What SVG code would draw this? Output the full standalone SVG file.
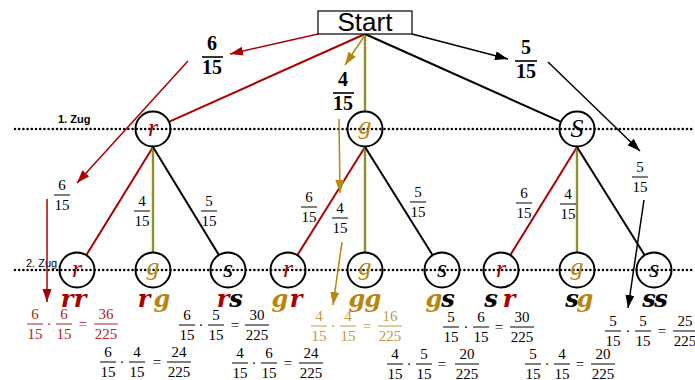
<svg xmlns="http://www.w3.org/2000/svg" width="695" height="380" viewBox="0 0 695 380">
<style>
.f{font-family:"Liberation Serif",serif;font-size:15px;text-anchor:middle}
.fb{font-family:"Liberation Serif",serif;font-size:20px;font-weight:bold;text-anchor:middle}
.bar{stroke:#000;stroke-width:1}
.barb{stroke:#000;stroke-width:1.6}
.red .bar{stroke:#b22222}
.gold .bar{stroke:#c09a45}
.red{fill:#b22222}
.gold{fill:#c09a45}
.node{fill:none;stroke:#000;stroke-width:2}
.nl{font-family:"Liberation Serif",serif;font-style:italic;font-size:26px;text-anchor:middle}
.lab{font-family:"DejaVu Serif",serif;font-style:italic;font-weight:bold;font-size:24px;text-anchor:middle}
.dot{stroke:#000;stroke-width:2.6;stroke-dasharray:0 4.2;stroke-linecap:round}
.er{stroke:#aa0000;stroke-width:2;fill:none}
.eg{stroke:#8f8f30;stroke-width:2.4;fill:none}
.ek{stroke:#000;stroke-width:2;fill:none}
.ar{stroke:#aa0000;stroke-width:1.5;fill:none;marker-end:url(#mr)}
.ag{stroke:#b8860b;stroke-width:1.5;fill:none;marker-end:url(#mg)}
.ak{stroke:#000;stroke-width:1.5;fill:none;marker-end:url(#mk)}
.cr{fill:#aa0000}
.cg{fill:#b8860b}
.ck{fill:#000}
.zug{font-family:"Liberation Sans",sans-serif;font-size:11px}
</style>
<defs>
<marker id="mr" markerUnits="userSpaceOnUse" markerWidth="14" markerHeight="10" refX="13" refY="4.5" orient="auto"><path d="M0,0 L13,4.5 L0,9 z" fill="#aa0000"/></marker>
<marker id="mg" markerUnits="userSpaceOnUse" markerWidth="14" markerHeight="10" refX="13" refY="4.5" orient="auto"><path d="M0,0 L13,4.5 L0,9 z" fill="#b8860b"/></marker>
<marker id="mk" markerUnits="userSpaceOnUse" markerWidth="14" markerHeight="10" refX="13" refY="4.5" orient="auto"><path d="M0,0 L13,4.5 L0,9 z" fill="#000"/></marker>
</defs>
<rect width="695" height="380" fill="#fff"/>

<g id="zuege">
<line class="dot" x1="15" y1="129" x2="695" y2="129"/>
<line class="dot" x1="15" y1="270" x2="695" y2="270"/>
<text class="zug" x="58" y="123" font-weight="bold">1. Zug</text>
<text class="zug" x="26" y="267" font-size="12">2. Zug</text>
</g>

<g id="connectors">
<line class="er" x1="365" y1="34" x2="169.4" y2="121.6"/>
<line class="eg" x1="365" y1="34" x2="365" y2="111"/>
<line class="ek" x1="365" y1="34" x2="560.6" y2="121.6"/>
<line class="er" x1="153" y1="147" x2="86.5" y2="254.7"/>
<line class="eg" x1="153" y1="147" x2="153" y2="252"/>
<line class="ek" x1="153" y1="147" x2="218.6" y2="254.6"/>
<line class="er" x1="365" y1="147" x2="297.6" y2="254.7"/>
<line class="eg" x1="365" y1="147" x2="365" y2="252"/>
<line class="ek" x1="365" y1="147" x2="432.4" y2="254.7"/>
<line class="er" x1="577" y1="147" x2="510.5" y2="254.7"/>
<line class="eg" x1="577" y1="147" x2="577" y2="252"/>
<line class="ek" x1="577" y1="147" x2="644.4" y2="254.7"/>
</g>

<g id="annotation-arrows">
<line class="ar" x1="318" y1="34" x2="230" y2="54"/>
<line class="ar" x1="188" y1="61" x2="77" y2="183"/>
<line class="ar" x1="47" y1="199" x2="47" y2="302"/>
<line class="ag" x1="365" y1="35" x2="345" y2="65"/>
<line class="ag" x1="339" y1="119" x2="340" y2="193"/>
<line class="ag" x1="342" y1="242" x2="333" y2="305"/>
<line class="ak" x1="412" y1="34" x2="508" y2="59"/>
<line class="ak" x1="548" y1="62" x2="640" y2="151"/>
<line class="ak" x1="644" y1="200" x2="628" y2="308"/>
</g>

<g id="start">
<rect x="318" y="11" width="94" height="23" fill="#fff" stroke="#000" stroke-width="1.2"/>
<text x="365" y="31" font-family="Liberation Sans, sans-serif" font-size="26" text-anchor="middle">Start</text>
</g>

<g id="node-r"><circle class="node" cx="153" cy="129" r="17.5"/><text class="nl cr" x="153" y="136">r</text></g>
<g id="node-g"><circle class="node" cx="365" cy="129" r="17.5"/><text class="nl cg" x="365" y="134">g</text></g>
<g id="node-s"><circle class="node" cx="577" cy="129" r="17.5"/><text class="nl ck" x="577" y="137" font-size="22">S</text></g>

<g id="node-rr"><circle class="node" cx="77" cy="270" r="17.5"/><text class="nl cr" x="77" y="277">r</text><text class="lab cr" y="307"><tspan x="67">r</tspan><tspan x="80">r</tspan></text></g>
<g id="node-rg"><circle class="node" cx="153" cy="270" r="17.5"/><text class="nl cg" x="153" y="275">g</text><text class="lab" y="307"><tspan class="cr" x="144">r</tspan><tspan class="cg" x="162">g</tspan></text></g>
<g id="node-rs"><circle class="node" cx="228" cy="270" r="17.5"/><text class="nl ck" x="228" y="277">s</text><text class="lab" y="307"><tspan class="cr" x="223">r</tspan><tspan class="ck" x="236">s</tspan></text></g>
<g id="node-gr"><circle class="node" cx="288" cy="270" r="17.5"/><text class="nl cr" x="288" y="277">r</text><text class="lab" y="307"><tspan class="cg" x="280">g</tspan><tspan class="cr" x="296">r</tspan></text></g>
<g id="node-gg"><circle class="node" cx="365" cy="270" r="17.5"/><text class="nl cg" x="365" y="275">g</text><text class="lab cg" y="307"><tspan x="357">g</tspan><tspan x="373">g</tspan></text></g>
<g id="node-gs"><circle class="node" cx="442" cy="270" r="17.5"/><text class="nl ck" x="442" y="277">s</text><text class="lab" y="307"><tspan class="cg" x="434">g</tspan><tspan class="ck" x="448">s</tspan></text></g>
<g id="node-sr"><circle class="node" cx="501" cy="270" r="17.5"/><text class="nl cr" x="501" y="277">r</text><text class="lab" y="307"><tspan class="ck" x="491">s</tspan><tspan class="cr" x="509">r</tspan></text></g>
<g id="node-sg"><circle class="node" cx="577" cy="270" r="17.5"/><text class="nl cg" x="577" y="275">g</text><text class="lab" y="307"><tspan class="ck" x="572">s</tspan><tspan class="cg" x="585">g</tspan></text></g>
<g id="node-ss"><circle class="node" cx="654" cy="270" r="17.5"/><text class="nl ck" x="654" y="277">s</text><text class="lab ck" y="307"><tspan x="649">s</tspan><tspan x="661">s</tspan></text></g>

<g id="big-fractions">
<text class="fb" x="212" y="50">6</text><line class="barb" x1="202" y1="57" x2="223" y2="57"/><text class="fb" x="212" y="74">15</text>
<text class="fb" x="343" y="86">4</text><line class="barb" x1="333" y1="93" x2="354" y2="93"/><text class="fb" x="343" y="110">15</text>
<text class="fb" x="526" y="54">5</text><line class="barb" x1="515" y1="61" x2="537" y2="61"/><text class="fb" x="526" y="78">15</text>
</g>

<g id="small-fractions">
<text class="f" x="62" y="190">6</text><line class="bar" x1="54" y1="195" x2="70" y2="195"/><text class="f" x="62" y="210">15</text>
<text class="f" x="340" y="213">4</text><line class="bar" x1="332" y1="218" x2="348" y2="218"/><text class="f" x="340" y="233">15</text>
<text class="f" x="640" y="172">5</text><line class="bar" x1="632" y1="177" x2="648" y2="177"/><text class="f" x="640" y="192">15</text>
<text class="f" x="142" y="206">4</text><line class="bar" x1="134" y1="211" x2="150" y2="211"/><text class="f" x="142" y="226">15</text>
<text class="f" x="209" y="206">5</text><line class="bar" x1="201" y1="211" x2="217" y2="211"/><text class="f" x="209" y="226">15</text>
<text class="f" x="309" y="202">6</text><line class="bar" x1="301" y1="207" x2="317" y2="207"/><text class="f" x="309" y="222">15</text>
<text class="f" x="418" y="197">5</text><line class="bar" x1="410" y1="202" x2="426" y2="202"/><text class="f" x="418" y="217">15</text>
<text class="f" x="524" y="198">6</text><line class="bar" x1="516" y1="203" x2="532" y2="203"/><text class="f" x="524" y="218">15</text>
<text class="f" x="568" y="199">4</text><line class="bar" x1="560" y1="204" x2="576" y2="204"/><text class="f" x="568" y="219">15</text>
</g>

<g id="product-rr" class="red">
<text class="f" x="35" y="319">6</text><line class="bar" x1="27" y1="324" x2="43" y2="324"/><text class="f" x="35" y="339">15</text>
<text class="f" x="49" y="329">·</text>
<text class="f" x="64" y="319">6</text><line class="bar" x1="56" y1="324" x2="72" y2="324"/><text class="f" x="64" y="339">15</text>
<text class="f" x="83" y="329">=</text>
<text class="f" x="106" y="319">36</text><line class="bar" x1="94" y1="324" x2="118" y2="324"/><text class="f" x="106" y="339">225</text>
</g>
<g id="product-rs">
<text class="f" x="187" y="320">6</text><line class="bar" x1="179" y1="325" x2="195" y2="325"/><text class="f" x="187" y="340">15</text>
<text class="f" x="201" y="330">·</text>
<text class="f" x="216" y="320">5</text><line class="bar" x1="208" y1="325" x2="224" y2="325"/><text class="f" x="216" y="340">15</text>
<text class="f" x="235" y="330">=</text>
<text class="f" x="257" y="320">30</text><line class="bar" x1="245" y1="325" x2="269" y2="325"/><text class="f" x="257" y="340">225</text>
</g>
<g id="product-gg" class="gold">
<text class="f" x="319" y="321">4</text><line class="bar" x1="311" y1="326" x2="327" y2="326"/><text class="f" x="319" y="341">15</text>
<text class="f" x="333" y="331">·</text>
<text class="f" x="348" y="321">4</text><line class="bar" x1="340" y1="326" x2="356" y2="326"/><text class="f" x="348" y="341">15</text>
<text class="f" x="367" y="331">=</text>
<text class="f" x="390" y="321">16</text><line class="bar" x1="378" y1="326" x2="402" y2="326"/><text class="f" x="390" y="341">225</text>
</g>
<g id="product-sr">
<text class="f" x="451" y="322">5</text><line class="bar" x1="443" y1="327" x2="459" y2="327"/><text class="f" x="451" y="342">15</text>
<text class="f" x="466" y="332">·</text>
<text class="f" x="481" y="322">6</text><line class="bar" x1="473" y1="327" x2="489" y2="327"/><text class="f" x="481" y="342">15</text>
<text class="f" x="499" y="332">=</text>
<text class="f" x="522" y="322">30</text><line class="bar" x1="510" y1="327" x2="534" y2="327"/><text class="f" x="522" y="342">225</text>
</g>
<g id="product-ss">
<text class="f" x="613" y="326">5</text><line class="bar" x1="605" y1="331" x2="621" y2="331"/><text class="f" x="613" y="346">15</text>
<text class="f" x="628" y="336">·</text>
<text class="f" x="643" y="326">5</text><line class="bar" x1="635" y1="331" x2="651" y2="331"/><text class="f" x="643" y="346">15</text>
<text class="f" x="662" y="336">=</text>
<text class="f" x="685" y="326">25</text><line class="bar" x1="673" y1="331" x2="697" y2="331"/><text class="f" x="685" y="346">225</text>
</g>
<g id="product-rg">
<text class="f" x="108" y="357">6</text><line class="bar" x1="100" y1="362" x2="116" y2="362"/><text class="f" x="108" y="377">15</text>
<text class="f" x="122" y="367">·</text>
<text class="f" x="137" y="357">4</text><line class="bar" x1="129" y1="362" x2="145" y2="362"/><text class="f" x="137" y="377">15</text>
<text class="f" x="157" y="367">=</text>
<text class="f" x="179" y="357">24</text><line class="bar" x1="167" y1="362" x2="191" y2="362"/><text class="f" x="179" y="377">225</text>
</g>
<g id="product-gr">
<text class="f" x="240" y="358">4</text><line class="bar" x1="232" y1="363" x2="248" y2="363"/><text class="f" x="240" y="378">15</text>
<text class="f" x="254" y="368">·</text>
<text class="f" x="269" y="358">6</text><line class="bar" x1="261" y1="363" x2="277" y2="363"/><text class="f" x="269" y="378">15</text>
<text class="f" x="288" y="368">=</text>
<text class="f" x="311" y="358">24</text><line class="bar" x1="299" y1="363" x2="323" y2="363"/><text class="f" x="311" y="378">225</text>
</g>
<g id="product-gs">
<text class="f" x="395" y="359">4</text><line class="bar" x1="387" y1="364" x2="403" y2="364"/><text class="f" x="395" y="379">15</text>
<text class="f" x="409" y="369">·</text>
<text class="f" x="424" y="359">5</text><line class="bar" x1="416" y1="364" x2="432" y2="364"/><text class="f" x="424" y="379">15</text>
<text class="f" x="442" y="369">=</text>
<text class="f" x="467" y="359">20</text><line class="bar" x1="455" y1="364" x2="479" y2="364"/><text class="f" x="467" y="379">225</text>
</g>
<g id="product-sg">
<text class="f" x="533" y="359">5</text><line class="bar" x1="525" y1="364" x2="541" y2="364"/><text class="f" x="533" y="379">15</text>
<text class="f" x="547" y="369">·</text>
<text class="f" x="562" y="359">4</text><line class="bar" x1="554" y1="364" x2="570" y2="364"/><text class="f" x="562" y="379">15</text>
<text class="f" x="580" y="369">=</text>
<text class="f" x="603" y="359">20</text><line class="bar" x1="591" y1="364" x2="615" y2="364"/><text class="f" x="603" y="379">225</text>
</g>
</svg>
